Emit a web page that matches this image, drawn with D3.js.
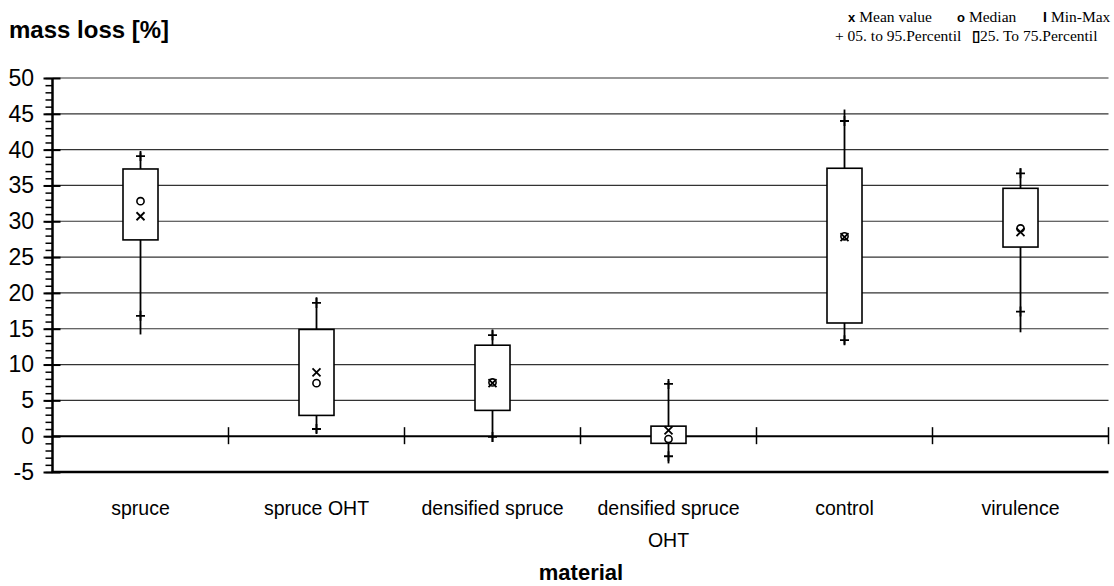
<!DOCTYPE html>
<html>
<head>
<meta charset="utf-8">
<script src="https://cdn.jsdelivr.net/npm/d3@7"></script>
<style>
  html, body { margin: 0; padding: 0; background: #fff; }
  svg { display: block; }
</style>
</head>
<body>
<svg id="chart" width="1114" height="586"></svg>
<script>
// Mass loss per material: box = 25th–75th percentile, whisker = min–max,
// "+" = 5th / 95th percentile, "x" = mean, "o" = median.
const categories = ["spruce", "spruce OHT", "densified spruce", "densified spruce OHT", "control", "virulence"];
const minValues  = [14.2, 0.4, -0.8, -3.8, 12.8, 14.5];
const p05Values  = [16.8, 1.0, -0.1, -2.8, 13.4, 17.4];
const q25Values  = [27.4, 2.9, 3.6, -1.0, 15.8, 26.4];
const medianValues = [32.8, 7.4, 7.5, -0.4, 27.9, 29.0];
const meanValues = [30.7, 8.9, 7.4, 0.8, 27.8, 28.5];
const q75Values  = [37.3, 14.9, 12.7, 1.4, 37.4, 34.6];
const p95Values  = [39.1, 18.6, 14.1, 7.3, 44.0, 36.7];
const maxValues  = [39.6, 19.4, 14.9, 7.7, 45.6, 37.4];
const yTicks = [-5, 0, 5, 10, 15, 20, 25, 30, 35, 40, 45, 50];

const rows = categories.map((c, i) => ({
  cat: c, min: minValues[i], p05: p05Values[i], q25: q25Values[i],
  median: medianValues[i], mean: meanValues[i], q75: q75Values[i],
  p95: p95Values[i], max: maxValues[i]
}));

const svg = d3.select("#chart");
const plotLeft = 52.5, plotRight = 1108.5, plotTop = 78, plotBottom = 472;

const x = d3.scaleBand().domain(categories).range([plotLeft, plotRight]).padding(0);
const y = d3.scaleLinear().domain([-5, 50]).range([plotBottom, plotTop]);

const sans = "'Liberation Sans', Arial, sans-serif";
const serif = "'Liberation Serif', 'Times New Roman', serif";

// horizontal grid lines
svg.append("g")
  .selectAll("line")
  .data(yTicks.filter(v => v !== 0 && v !== -5))
  .join("line")
  .attr("x1", plotLeft).attr("x2", plotRight)
  .attr("y1", d => y(d)).attr("y2", d => y(d))
  .attr("stroke", "#333").attr("stroke-width", 1.2);

// zero line with category separators
svg.append("line")
  .attr("x1", plotLeft).attr("x2", plotRight)
  .attr("y1", y(0)).attr("y2", y(0))
  .attr("stroke", "#000").attr("stroke-width", 2);

svg.append("g")
  .selectAll("line")
  .data(categories)
  .join("line")
  .attr("x1", d => x(d) + x.bandwidth()).attr("x2", d => x(d) + x.bandwidth())
  .attr("y1", y(0) - 9).attr("y2", y(0) + 8)
  .attr("stroke", "#000").attr("stroke-width", 1.5);

// bottom axis line
svg.append("line")
  .attr("x1", plotLeft - 1).attr("x2", plotRight)
  .attr("y1", plotBottom).attr("y2", plotBottom)
  .attr("stroke", "#000").attr("stroke-width", 2.5);

// y axis with minor ticks
const yAxisMinor = d3.axisLeft(y).ticks(55).tickSize(7).tickFormat("");
const gMinor = svg.append("g").attr("transform", `translate(${plotLeft},0)`).call(yAxisMinor);
gMinor.select(".domain").remove();
gMinor.selectAll("line").attr("stroke", "#000").attr("stroke-width", 1.5);

const yAxis = d3.axisLeft(y).tickValues(yTicks).tickSize(9)
  .tickFormat(d => String(d));
const gAxis = svg.append("g").attr("transform", `translate(${plotLeft},0)`).call(yAxis);
gAxis.select(".domain").attr("stroke", "#000").attr("stroke-width", 2.5)
  .attr("d", `M0,${plotBottom + 1}V${plotTop}`);
gAxis.selectAll(".tick line").attr("stroke", "#000").attr("stroke-width", 2)
  .attr("x1", 8);
gAxis.selectAll(".tick text")
  .attr("font-family", sans).attr("font-size", 23).attr("fill", "#000")
  .attr("x", -18.5);

// boxes
const boxW = 35;
const g = svg.append("g")
  .selectAll("g")
  .data(rows)
  .join("g")
  .attr("transform", d => `translate(${x(d.cat) + x.bandwidth() / 2},0)`);

g.append("line")
  .attr("x1", 0).attr("x2", 0)
  .attr("y1", d => y(d.max)).attr("y2", d => y(d.min))
  .attr("stroke", "#000").attr("stroke-width", 1.8);

g.append("rect")
  .attr("x", -boxW / 2).attr("width", boxW)
  .attr("y", d => y(d.q75)).attr("height", d => y(d.q25) - y(d.q75))
  .attr("fill", "#fff").attr("stroke", "#000").attr("stroke-width", 1.6);

// 5th / 95th percentile crosses
g.selectAll(".pct")
  .data(d => [d.p05, d.p95])
  .join("path")
  .attr("class", "pct")
  .attr("d", v => `M-4.5,${y(v)}H4.5M0,${y(v) - 5}V${y(v) + 5}`)
  .attr("stroke", "#000").attr("stroke-width", 1.8).attr("fill", "none");

// median circle
g.append("circle")
  .attr("cx", 0).attr("cy", d => y(d.median)).attr("r", 3.6)
  .attr("fill", "none").attr("stroke", "#000").attr("stroke-width", 1.6);

// mean cross
g.append("path")
  .attr("d", d => { const c = y(d.mean); return `M-4,${c - 4}L4,${c + 4}M-4,${c + 4}L4,${c - 4}`; })
  .attr("stroke", "#000").attr("stroke-width", 1.8).attr("fill", "none");

// category labels
const catText = svg.append("g")
  .selectAll("text")
  .data(categories)
  .join("text")
  .attr("x", d => x(d) + x.bandwidth() / 2)
  .attr("y", 515)
  .attr("text-anchor", "middle")
  .attr("font-family", sans).attr("font-size", 19.5).attr("fill", "#000");
catText.each(function(d) {
  const t = d3.select(this);
  const lines = d === "densified spruce OHT" ? ["densified spruce", "OHT"] : [d];
  lines.forEach((l, i) => {
    t.append("tspan").attr("x", x(d) + x.bandwidth() / 2).attr("dy", i === 0 ? 0 : 32).text(l);
  });
});

// titles
svg.append("text")
  .attr("x", 9).attr("y", 38)
  .attr("font-family", sans).attr("font-weight", "bold").attr("font-size", 24)
  .text("mass loss [%]");

svg.append("text")
  .attr("x", 581).attr("y", 580)
  .attr("text-anchor", "middle")
  .attr("font-family", sans).attr("font-weight", "bold").attr("font-size", 22)
  .text("material");

// legend
function legendItem(xPos, yPos, symbol, symSize, label) {
  const t = svg.append("text").attr("x", xPos).attr("y", yPos)
    .attr("font-family", serif).attr("font-size", 15.5).attr("fill", "#000");
  t.append("tspan").attr("font-family", sans).attr("font-weight", "bold")
    .attr("font-size", symSize).text(symbol);
  t.append("tspan").attr("dx", label.startsWith(" ") ? 4 : 0).text(label.trim());
  return t;
}
legendItem(848, 22, "x", 13, " Mean value");
legendItem(957, 22, "o", 13, " Median");
legendItem(1043, 22, "I", 14, " Min-Max");

svg.append("text").attr("x", 835).attr("y", 41)
  .attr("font-family", serif).attr("font-size", 15.5).attr("fill", "#000")
  .text("+ 05. to 95.Percentil");
legendItem(972, 41, "\u25AF", 15, "25. To 75.Percentil");
</script>
</body>
</html>
